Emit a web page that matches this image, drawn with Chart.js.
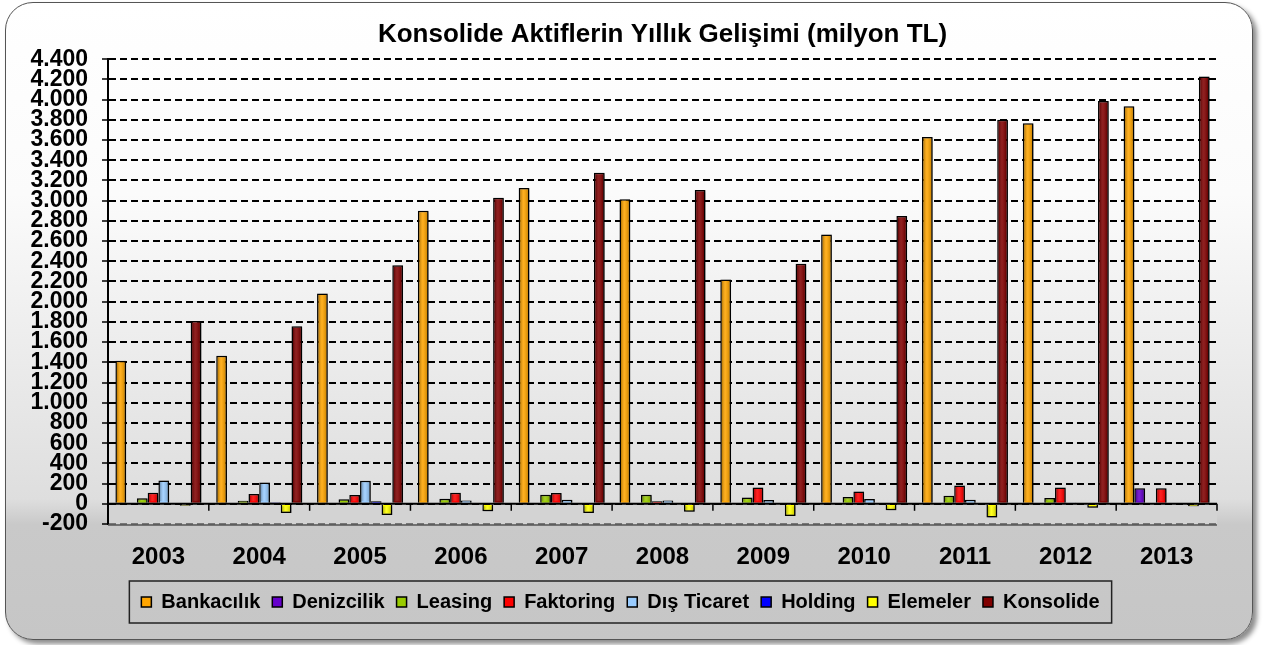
<!DOCTYPE html>
<html>
<head>
<meta charset="utf-8">
<script src="https://cdn.jsdelivr.net/npm/chart.js@4.4.1/dist/chart.umd.min.js"></script>
<style>
  body { margin: 0; width: 1266px; height: 645px; overflow: hidden; background: #fff; }
  #panel {
    position: absolute; left: 5px; top: 2px; width: 1246px; height: 636px;
    border: 1.5px solid #555; border-radius: 28px;
    background: linear-gradient(#ffffff 0%, #fbfbfb 30%, #dedede 78%, #c9c9c9 82%, #c6c6c6 100%);
    box-shadow: 4px 4px 5px rgba(0,0,0,0.45);
  }
  canvas { position: absolute; left: 0; top: 0; }
</style>
</head>
<body>
<div id="panel"></div>
<canvas id="chart" width="1266" height="645"></canvas>
<script>
const years = ['2003', '2004', '2005', '2006', '2007', '2008', '2009', '2010', '2011', '2012', '2013'];

const bankacilik = [1415, 1465, 2080, 2900, 3125, 3015, 2220, 2665, 3630, 3765, 3935];
const denizcilik = [0, 0, 0, 0, 0, 0, 0, 0, 0, 0, 155];
const leasing    = [55, 30, 45, 50, 89, 90, 63, 66, 79, 57, 0];
const faktoring  = [109, 96, 86, 109, 106, 26, 162, 122, 181, 162, 155];
const disTicaret = [231, 211, 228, 33, 40, 33, 37, 47, 40, 8, 0];
const holding    = [0, 15, 26, 0, 0, 10, 0, 0, 0, 0, 0];
const elemeler   = [-20, -90, -110, -75, -90, -80, -120, -65, -135, -40, -25];
const konsolide  = [1810, 1757, 2360, 3030, 3277, 3105, 2375, 2847, 3800, 3987, 4229];

const seriesNames  = ['Bankacılık', 'Denizcilik', 'Leasing', 'Faktoring', 'Dış Ticaret', 'Holding', 'Elemeler', 'Konsolide'];
const seriesValues = [bankacilik, denizcilik, leasing, faktoring, disTicaret, holding, elemeler, konsolide];
const seriesColors = ['#FFA500', '#6600CC', '#99CC00', '#FF0000', '#99CCFF', '#0000FF', '#FFFF00', '#800000'];

const FONT = "'Liberation Sans', Arial, sans-serif";

// thousand separator with a dot, like the original
const fmt = (v) => String(v).replace(/\B(?=(\d{3})+(?!\d))/g, '.');

const decorations = {
    id: 'decorations',
    beforeDatasetsDraw(chart) {
        const ctx = chart.ctx;
        ctx.save();
        ctx.shadowColor = 'rgba(0,0,0,0.45)';
        ctx.shadowBlur = 3;
        ctx.shadowOffsetX = 2;
        ctx.shadowOffsetY = 1;
    },
    afterDatasetsDraw(chart) {
        const ctx = chart.ctx;
        ctx.restore();

        // a little shading on each bar for the 3D look
        chart.data.datasets.forEach((ds, i) => {
            chart.getDatasetMeta(i).data.forEach((bar) => {
                const {x, y, base, width} = bar.getProps(['x', 'y', 'base', 'width'], true);
                const top = Math.min(y, base) + 1.5;
                const h = Math.abs(base - y) - 3;
                if (h <= 1) return;
                const left = x - width / 2 + 1.5;
                const g = ctx.createLinearGradient(left, 0, left + width - 3, 0);
                g.addColorStop(0, 'rgba(0,0,0,0.28)');
                g.addColorStop(0.45, 'rgba(255,255,255,0.12)');
                g.addColorStop(1, 'rgba(0,0,0,0.18)');
                ctx.fillStyle = g;
                ctx.fillRect(left, top, width - 3, h);
            });
        });

        // solid zero line with the category ticks under it
        const xs = chart.scales.x;
        const ys = chart.scales.y;
        const area = chart.chartArea;
        const y0 = ys.getPixelForValue(0);
        ctx.save();
        ctx.strokeStyle = '#000';
        ctx.lineWidth = 2;
        ctx.beginPath();
        ctx.moveTo(area.left, y0);
        ctx.lineTo(area.right, y0);
        ctx.stroke();
        ctx.lineWidth = 1.5;
        const n = years.length;
        for (let i = 1; i <= n; i++) {
            const bx = i === n ? area.right : (xs.getPixelForTick(i - 1) + xs.getPixelForTick(i)) / 2;
            ctx.beginPath();
            ctx.moveTo(bx, y0);
            ctx.lineTo(bx, y0 + 7);
            ctx.stroke();
        }
        // bottom edge of the plot
        ctx.strokeStyle = '#555';
        ctx.lineWidth = 1.5;
        ctx.beginPath();
        ctx.moveTo(area.left, area.bottom + 1);
        ctx.lineTo(area.right, area.bottom + 1);
        ctx.stroke();
        ctx.restore();
    },
    beforeDraw(chart) {
        // slightly lighter band under the zero line inside the plot
        const ctx = chart.ctx;
        const area = chart.chartArea;
        const y0 = chart.scales.y.getPixelForValue(0);
        ctx.save();
        ctx.fillStyle = '#d3d3d3';
        ctx.fillRect(area.left, y0, area.right - area.left, area.bottom - y0);
        ctx.restore();
    },
    afterDraw(chart) {
        // frame around the legend
        const boxes = chart.legend.legendHitBoxes;
        if (!boxes || !boxes.length) return;
        let minX = Infinity, maxX = -Infinity, minY = Infinity, maxY = -Infinity;
        boxes.forEach((b) => {
            minX = Math.min(minX, b.left);
            maxX = Math.max(maxX, b.left + b.width);
            minY = Math.min(minY, b.top);
            maxY = Math.max(maxY, b.top + b.height);
        });
        const ctx = chart.ctx;
        ctx.save();
        ctx.strokeStyle = '#222';
        ctx.lineWidth = 1.5;
        ctx.strokeRect(minX - 12, minY - 11, maxX - minX + 24, maxY - minY + 22);
        ctx.restore();
    }
};

const ctx = document.getElementById('chart').getContext('2d');
new Chart(ctx, {
    type: 'bar',
    data: {
        labels: years,
        datasets: seriesNames.map((name, i) => ({
            label: name,
            data: seriesValues[i],
            backgroundColor: seriesColors[i],
            borderColor: '#000',
            borderWidth: 1.5
        }))
    },
    options: {
        responsive: false,
        animation: false,
        layout: {padding: {left: 24, right: 49, top: 0, bottom: 23}},
        datasets: {
            bar: {categoryPercentage: 0.853, barPercentage: 1}
        },
        scales: {
            x: {
                afterFit: (scale) => { scale.height = 56; },
                grid: {display: false, drawTicks: false},
                border: {display: false},
                ticks: {
                    color: '#000',
                    padding: 25,
                    font: {family: FONT, size: 24, weight: 'bold', lineHeight: 0.7}
                }
            },
            y: {
                min: -200,
                max: 4400,
                afterFit: (scale) => { scale.width = 84; },
                border: {display: true, color: '#000', width: 2, dash: [7, 4]},
                grid: {
                    color: (c) => (c.tick && c.tick.value === -200 ? '#777' : '#000'),
                    lineWidth: 2,
                    tickLength: 6,
                    tickColor: '#000',
                    tickWidth: 1.5,
                    tickBorderDash: []
                },
                ticks: {
                    stepSize: 200,
                    autoSkip: false,
                    color: '#000',
                    padding: 14,
                    font: {family: FONT, size: 23, weight: 'bold', lineHeight: 1},
                    callback: (v) => (v < 0 ? '-' + fmt(-v) : fmt(v))
                }
            }
        },
        plugins: {
            title: {
                display: true,
                fullSize: false,
                text: 'Konsolide Aktiflerin Yıllık Gelişimi (milyon TL)',
                color: '#000',
                font: {family: FONT, size: 26, weight: 'bold'},
                padding: {top: 19, bottom: 9}
            },
            legend: {
                position: 'bottom',
                labels: {
                    boxWidth: 10,
                    boxHeight: 10,
                    padding: 12,
                    color: '#000',
                    font: {family: FONT, size: 20, weight: 'bold'}
                }
            },
            tooltip: {enabled: false}
        }
    },
    plugins: [decorations]
});
</script>
</body>
</html>
